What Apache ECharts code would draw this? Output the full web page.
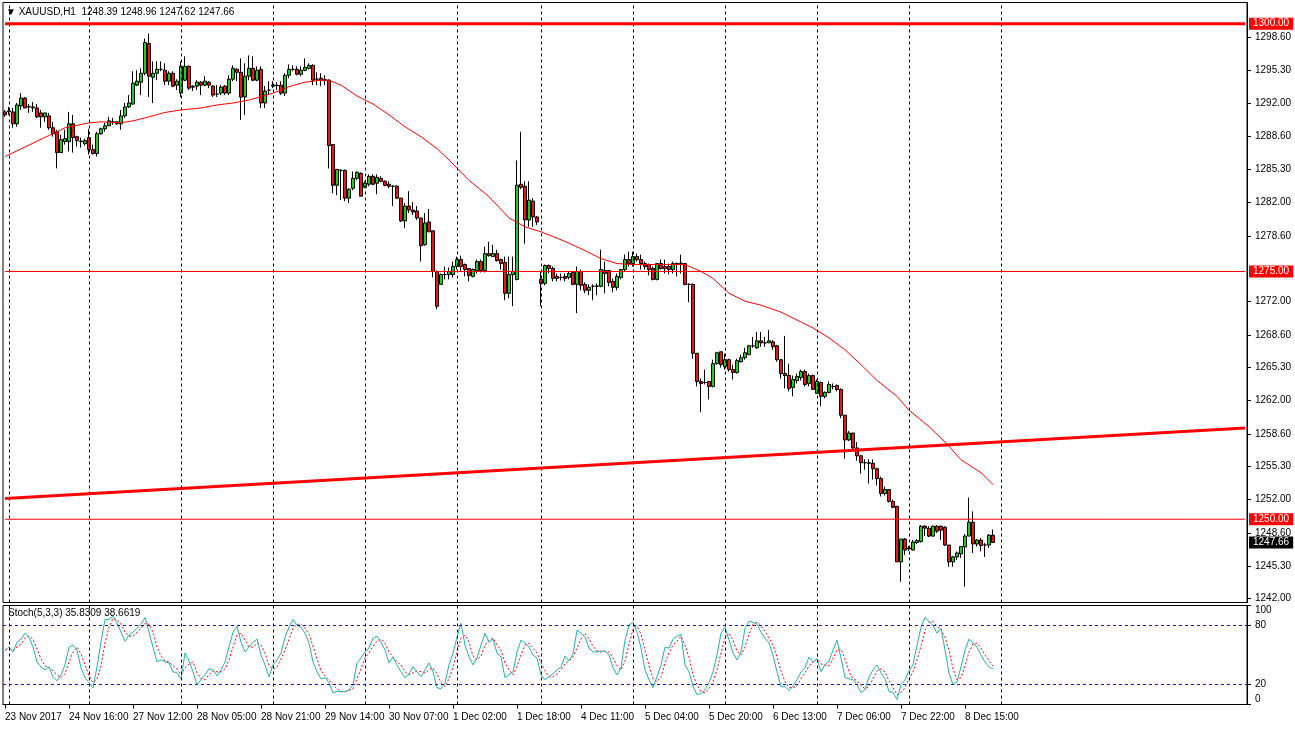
<!DOCTYPE html>
<html><head><meta charset="utf-8">
<script src="https://cdn.jsdelivr.net/npm/echarts@6/dist/echarts.min.js"></script>
<style>html,body{margin:0;padding:0;background:#fff;}#c{width:1295px;height:729px;}</style>
</head><body><div id="c"></div>
<script>
const symbol = 'XAUUSD,H1';
const opens = [
1291.1,1291.1,1291.1,1289.9,1291.7,1292.5,1291.6,1291.5,1291.5,1291.0,
1290.6,1290.7,1289.5,1289.1,1287.0,1288.1,1288.1,1289.9,1288.6,1288.1,
1287.9,1288.5,1287.3,1286.9,1288.9,1289.4,1289.7,1290.1,1290.1,1289.9,
1290.7,1291.6,1291.9,1293.8,1294.1,1295.0,1298.0,1294.6,1295.0,1295.4,
1295.3,1294.2,1295.0,1293.8,1293.0,1294.3,1295.7,1293.7,1293.7,1294.1,
1293.8,1294.1,1293.7,1292.9,1293.0,1293.7,1293.0,1294.4,1295.4,1295.1,
1292.6,1294.7,1295.5,1294.3,1295.4,1292.0,1293.3,1293.7,1293.8,1293.8,
1293.0,1294.8,1295.4,1295.4,1294.9,1295.3,1295.5,1295.8,1294.4,1294.5,
1294.3,1294.3,1287.8,1283.7,1285.2,1285.2,1282.4,1283.4,1284.4,1284.9,
1283.5,1283.8,1284.6,1283.9,1284.4,1284.1,1283.8,1283.6,1283.6,1282.4,
1280.1,1281.6,1281.2,1281.1,1280.4,1277.7,1280.0,1279.1,1275.0,1273.7,
1274.7,1274.7,1274.7,1275.5,1276.2,1275.7,1275.3,1274.5,1275.1,1276.0,
1275.1,1276.8,1276.5,1276.8,1276.2,1275.9,1272.8,1274.7,1274.2,1283.8,
1283.6,1280.2,1282.1,1280.5,1274.2,1273.8,1275.6,1275.3,1274.5,1274.4,
1274.5,1274.4,1274.9,1273.7,1275.0,1273.7,1273.1,1273.5,1273.5,1273.5,
1275.1,1275.1,1274.0,1273.4,1274.4,1275.2,1276.2,1275.8,1276.5,1276.2,
1275.8,1275.7,1275.3,1274.2,1275.8,1275.5,1275.5,1275.2,1275.8,1275.8,
1275.8,1273.7,1273.7,1266.75,1263.9,1263.8,1263.9,1263.4,1265.7,1266.9,
1265.4,1266.1,1265.1,1264.8,1265.9,1266.3,1266.6,1267.5,1267.3,1268.0,
1267.8,1267.8,1267.9,1267.5,1266.1,1264.7,1264.5,1263.3,1264.0,1264.3,
1264.9,1263.7,1264.5,1262.7,1263.8,1262.4,1262.8,1263.4,1263.5,1263.1,
1260.5,1258.0,1258.7,1257.2,1256.4,1255.7,1255.7,1255.65,1255.1,1254.1,
1252.6,1253.0,1251.8,1251.3,1245.7,1248.0,1247.1,1246.9,1247.65,1247.75,
1249.3,1249.1,1248.3,1249.3,1249.3,1249.2,1247.4,1245.7,1246.2,1246.5,
1247.2,1248.3,1249.7,1247.5,1247.9,1247.4,1247.4,1248.39];
const highs = [
1291.3,1291.6,1291.5,1292.0,1293.0,1292.6,1291.9,1292.1,1291.9,1291.3,
1291.0,1291.0,1290.1,1289.3,1288.8,1289.3,1291.1,1290.8,1288.7,1288.5,
1288.4,1289.4,1287.8,1289.1,1289.5,1290.0,1290.6,1290.5,1290.2,1291.3,
1292.0,1292.8,1295.2,1295.3,1295.5,1298.5,1299.0,1296.2,1296.2,1296.2,
1296.0,1295.2,1295.2,1294.4,1296.2,1296.7,1295.8,1293.8,1294.3,1294.2,
1294.7,1294.2,1293.8,1293.8,1293.8,1293.8,1294.8,1295.8,1295.5,1296.5,
1296.0,1296.8,1296.7,1295.7,1295.7,1293.7,1294.2,1294.2,1294.1,1294.2,
1295.0,1295.9,1295.8,1295.7,1295.7,1296.5,1296.0,1295.9,1295.1,1295.0,
1294.8,1294.4,1287.8,1285.3,1285.3,1285.3,1283.4,1285.1,1285.1,1285.0,
1284.1,1284.8,1284.8,1284.8,1284.6,1284.2,1284.1,1283.7,1283.7,1282.4,
1281.9,1283.1,1282.0,1281.6,1280.4,1280.9,1281.3,1279.1,1275.1,1274.8,
1275.5,1275.4,1276.0,1276.5,1276.6,1275.8,1275.3,1275.3,1276.2,1276.2,
1277.5,1278.0,1277.7,1277.2,1276.3,1276.5,1276.5,1276.5,1286.2,1289.1,
1284.1,1284.1,1282.4,1280.6,1275.0,1275.7,1275.7,1275.5,1274.8,1274.8,
1274.8,1275.0,1275.0,1275.5,1275.2,1273.9,1273.7,1273.7,1273.8,1277.2,
1276.0,1275.1,1274.3,1274.8,1275.2,1276.7,1277.0,1277.0,1276.8,1276.7,
1276.0,1275.8,1275.5,1275.8,1276.2,1276.2,1275.8,1276.0,1275.9,1276.7,
1275.8,1273.8,1273.8,1266.75,1264.2,1265.1,1263.9,1266.1,1266.9,1266.9,
1266.7,1266.2,1265.6,1266.2,1266.6,1267.3,1267.6,1268.4,1268.9,1268.9,
1268.4,1269.1,1268.1,1267.6,1266.1,1268.5,1265.7,1264.5,1264.7,1265.1,
1265.1,1264.7,1264.6,1264.1,1263.9,1262.9,1263.9,1263.7,1263.6,1263.2,
1260.5,1258.9,1258.7,1257.8,1256.5,1256.05,1256.05,1256.05,1255.2,1254.3,
1253.3,1253.0,1252.0,1251.35,1248.0,1248.1,1247.3,1247.9,1248.0,1249.4,
1249.4,1249.3,1249.35,1249.4,1249.35,1249.3,1247.4,1246.3,1246.75,1247.3,
1248.5,1252.2,1250.8,1248.0,1248.1,1247.6,1248.5,1248.96];
const lows = [
1290.6,1290.8,1289.5,1289.6,1291.3,1291.5,1291.0,1291.1,1290.5,1289.5,
1290.1,1289.3,1288.6,1285.4,1287.0,1287.8,1287.1,1287.0,1287.6,1287.5,
1287.7,1286.8,1286.8,1286.6,1288.8,1289.1,1289.7,1289.8,1289.8,1289.3,
1290.5,1291.5,1291.8,1293.7,1292.8,1294.8,1292.6,1292.0,1294.3,1295.2,
1293.8,1293.8,1293.6,1293.3,1292.6,1294.2,1293.3,1293.2,1293.3,1292.8,
1293.7,1293.5,1292.6,1292.6,1292.8,1292.8,1292.8,1294.2,1294.2,1290.3,
1290.8,1294.3,1294.2,1294.2,1291.5,1291.5,1292.8,1293.5,1293.3,1292.8,
1292.7,1294.5,1295.2,1294.8,1294.7,1295.2,1295.4,1293.8,1293.8,1293.7,
1293.8,1285.4,1282.9,1282.7,1282.2,1282.1,1281.9,1283.2,1284.2,1282.6,
1283.4,1283.6,1283.7,1282.8,1284.0,1283.6,1283.4,1281.6,1282.3,1280.0,
1279.4,1280.9,1280.7,1280.2,1276.0,1277.6,1279.0,1274.4,1271.2,1273.7,
1274.2,1274.2,1274.4,1275.2,1275.0,1274.5,1274.0,1274.4,1274.8,1274.9,
1274.9,1276.5,1276.5,1276.0,1275.2,1272.1,1272.3,1271.5,1274.1,1283.3,
1277.8,1279.5,1279.5,1279.7,1271.5,1273.6,1274.8,1274.0,1274.0,1274.1,
1274.0,1274.2,1273.6,1270.8,1273.1,1272.8,1272.6,1272.1,1272.6,1273.4,
1272.8,1273.5,1272.9,1273.1,1274.2,1275.0,1275.5,1275.5,1276.0,1275.2,
1275.2,1274.6,1274.1,1274.1,1275.2,1274.8,1274.7,1274.8,1274.5,1274.8,
1273.6,1271.9,1266.2,1263.4,1260.8,1263.6,1262.1,1263.3,1265.6,1265.3,
1265.1,1264.9,1264.1,1264.7,1265.8,1266.1,1266.6,1267.3,1267.2,1267.4,
1267.4,1267.8,1267.1,1265.9,1264.2,1263.2,1262.9,1262.4,1263.7,1264.0,
1263.4,1263.4,1263.1,1262.7,1261.4,1262.2,1262.7,1263.1,1262.9,1260.2,
1256.1,1257.9,1257.0,1255.9,1254.6,1255.0,1253.6,1254.0,1253.4,1252.3,
1252.4,1251.7,1251.1,1245.7,1243.7,1246.4,1246.8,1246.85,1247.5,1247.65,
1248.3,1248.2,1248.25,1248.6,1247.9,1247.3,1245.2,1245.2,1245.9,1246.1,
1243.2,1248.3,1246.6,1247.25,1246.75,1246.2,1247.1,1247.62];
const closes = [
1290.8,1291.2,1289.9,1291.8,1292.5,1291.5,1291.65,1291.6,1290.6,1290.6,
1291.0,1289.5,1288.9,1287.0,1288.3,1288.4,1289.9,1288.5,1288.2,1288.15,
1288.2,1287.3,1286.9,1288.9,1289.4,1289.7,1290.2,1290.1,1289.9,1290.7,
1291.6,1292.0,1294.0,1294.2,1295.0,1298.1,1294.7,1295.0,1295.4,1295.4,
1294.2,1295.0,1293.7,1294.2,1295.7,1295.7,1293.5,1293.6,1294.1,1293.8,
1294.2,1293.8,1292.8,1292.9,1293.6,1293.0,1294.4,1295.5,1295.1,1292.6,
1294.7,1295.5,1294.3,1295.3,1292.0,1293.2,1293.3,1293.8,1293.75,1293.0,
1294.8,1295.4,1295.4,1294.9,1295.3,1295.6,1295.8,1294.3,1294.4,1294.3,
1294.35,1287.7,1283.7,1285.3,1285.2,1282.4,1283.3,1284.4,1285.0,1282.6,
1283.9,1284.6,1283.8,1284.5,1284.1,1283.7,1283.6,1283.6,1282.4,1280.1,
1281.6,1281.2,1281.0,1280.4,1277.6,1279.9,1279.0,1275.0,1271.5,1274.7,
1274.7,1275.0,1275.5,1276.2,1275.5,1275.2,1274.6,1275.2,1276.0,1275.1,
1276.8,1276.6,1276.8,1276.1,1275.8,1272.8,1274.7,1275.0,1283.7,1283.5,
1280.2,1282.2,1280.5,1280.0,1273.8,1275.6,1275.3,1274.3,1274.3,1274.4,
1274.3,1274.8,1273.7,1275.0,1273.6,1273.1,1273.4,1273.5,1273.55,1275.2,
1274.8,1273.9,1273.4,1274.5,1275.2,1276.2,1275.8,1276.5,1276.2,1275.8,
1275.5,1275.2,1274.2,1275.8,1275.3,1275.3,1275.2,1275.8,1275.8,1275.85,
1273.7,1273.7,1266.75,1263.9,1263.7,1263.8,1263.4,1265.7,1266.8,1265.6,
1266.1,1265.1,1264.8,1266.0,1266.3,1266.8,1267.5,1267.5,1268.0,1267.8,
1267.8,1268.0,1267.4,1266.1,1264.7,1264.5,1263.2,1264.1,1264.4,1264.9,
1263.6,1264.5,1263.1,1263.9,1262.4,1262.8,1263.6,1263.4,1263.1,1260.5,
1258.0,1258.7,1257.2,1256.4,1255.7,1255.7,1255.65,1255.1,1254.1,1252.6,
1253.0,1251.8,1251.2,1245.7,1248.0,1246.9,1247.0,1247.7,1247.85,1249.3,
1249.1,1248.3,1249.3,1248.8,1248.9,1247.4,1245.7,1246.2,1246.6,1247.25,
1248.3,1249.7,1247.5,1247.9,1247.35,1247.4,1248.4,1247.66];

// moving average at these bars
const maBars = [0,7,15,21,24,29,32,36,40,44,49,53,57,61,67,71,75,79,81,84,88,92,96,100,104,108,111,116,121,126,130,134,139,144,149,153,157,165,170,174,177,181,185,189,194,198,202,206,210,214,218,223,226,231,235,239,244,247];
const maValues = [1286.6,1287.95,1289.5,1290.0,1290.1,1290.0,1290.2,1290.6,1291.05,1291.3,1291.5,1291.8,1292.0,1292.3,1293.0,1293.65,1294.1,1294.3,1294.3,1293.8,1292.7,1291.9,1290.8,1289.6,1288.6,1287.4,1286.25,1284.2,1282.55,1280.4,1279.5,1279.0,1278.2,1277.3,1276.3,1275.8,1275.7,1275.7,1275.7,1275.0,1274.3,1272.8,1272.0,1271.6,1270.9,1270.1,1269.3,1268.3,1267.1,1265.6,1264.0,1262.4,1261.0,1259.35,1257.8,1256.0,1254.7,1253.5];

const stochName = 'Stoch(5,3,3)';
const stochK = [
55,58,53,63,66,72,68,58,43,38, 35,38,28,24,30,40,58,60,55,37,
27,22,17,38,63,86,86,89,82,73, 64,70,73,77,81,88,73,58,43,45,
43,42,33,32,26,52,44,33,20,25, 30,36,35,29,35,43,58,73,79,63,
53,58,63,66,50,40,28,40,45,52, 68,78,86,80,78,72,62,43,33,26,
27,22,12,13,13,13,15,20,42,47, 53,57,67,69,63,55,42,48,40,33,
27,31,38,33,28,35,42,33,17,16, 22,40,52,68,82,60,48,40,47,60,
72,63,66,52,48,27,30,33,53,65, 62,58,50,47,30,25,28,31,35,38,
49,44,51,75,72,68,57,53,53,54, 54,50,37,30,37,65,80,83,73,57,
35,25,17,28,40,58,57,66,69,71, 40,33,18,10,11,15,22,33,50,72,
78,65,52,45,53,77,84,83,81,73, 67,62,50,33,18,18,14,19,25,33,
37,48,43,46,33,40,44,55,65,47, 27,26,25,20,12,15,28,35,40,32,
26,13,12,5,20,25,34,40,60,78, 88,84,80,72,77,55,32,20,23,38,
55,66,62,58,50,43,38,35.8309];
const stochD = [
55,56,55,58,61,67,69,66,56,46, 39,37,34,30,27,31,43,53,58,51,
40,29,22,26,39,62,78,87,86,81, 73,69,69,73,77,82,81,73,58,49,
44,43,39,36,30,37,41,43,32,26, 25,30,34,33,33,36,45,58,70,72,
65,58,58,62,60,52,39,36,38,46, 55,66,77,81,81,77,71,59,46,34,
29,25,20,16,13,13,14,16,26,36, 47,52,59,64,66,62,53,48,43,40,
33,30,32,34,33,32,35,37,31,22, 18,26,38,53,67,70,63,49,45,49,
60,65,67,60,55,42,35,30,39,50, 60,62,57,52,42,34,28,28,31,35,
41,44,48,57,66,72,66,59,54,53, 54,53,47,39,35,44,61,76,79,71,
55,39,26,23,28,42,52,60,64,69, 60,48,30,20,13,12,16,23,35,52,
67,72,65,54,50,58,71,81,83,79, 74,67,60,48,34,23,17,17,19,26,
32,39,43,46,41,40,39,46,55,56, 46,33,26,24,19,16,18,26,34,36,
33,24,17,10,12,17,26,33,45,59, 75,83,84,79,76,68,55,36,25,27,
39,53,61,62,57,50,44,38.6619];

const xTickLabels = ['23 Nov 2017','24 Nov 16:00','27 Nov 12:00','28 Nov 05:00','28 Nov 21:00','29 Nov 14:00','30 Nov 07:00','1 Dec 02:00','1 Dec 18:00','4 Dec 11:00','5 Dec 04:00','5 Dec 20:00','6 Dec 13:00','7 Dec 06:00','7 Dec 22:00','8 Dec 15:00'];
const barsPerTick = 16;
const totalSlots = 311;
const dayGridBars = [1,21,44,67,90,113,134,157,180,203,226,249];
const priceTicks = [1242,1245.3,1248.6,1252,1255.3,1258.6,1262,1265.3,1268.6,1272,1278.6,1282,1285.3,1288.6,1292,1295.3,1298.6];
const priceRange = [1241.6, 1302.14];
const levelLines = [1300, 1275, 1250];
const trendLine = [[0, 1252.1], [310, 1259.2]];
const stochLevels = [80, 20];
const stochTicks = [0, 20, 80, 100];

const FONT = 'Liberation Sans';
const GREEN = '#22CC22', RED = '#E81818';
const CLEAR = 'rgba(0,0,0,0)';
const last = closes.length - 1;
const cats = Array.from({length: totalSlots}, (_, i) => String(i));
const candleData = opens.map((o, i) => [o, closes[i], lows[i], highs[i]]);
const tickFn = (i) => i % barsPerTick === 0 && i / barsPerTick < xTickLabels.length;
const txt = {fontSize: 10, fontWeight: 'normal', color: '#000', fontFamily: FONT};
const boxLabel = (bg) => ({show: true, position: 'end', distance: 2, formatter: p => Number(p.value).toFixed(2),
  backgroundColor: bg, color: '#fff', fontSize: 10, fontFamily: FONT, padding: [1, 4, 1, 4]});
const lineW = [3, 1, 1];

const levelSeries = levelLines.map((v, k) => ({
  type: 'line', xAxisIndex: 0, yAxisIndex: 0, z: 5, silent: true, symbol: 'none',
  data: [[0, v], [totalSlots - 1, v]],
  lineStyle: {color: '#FF0000', width: lineW[k], type: 'solid'}
}));

const chart = echarts.init(document.getElementById('c'));
chart.setOption({
  animation: false,
  backgroundColor: '#fff',
  title: [
    {text: '\u25BC ' + symbol + '  ' + [opens[last], highs[last], lows[last], closes[last]].map(v => v.toFixed(2)).join(' '),
     left: 6, top: 7, padding: 0, textStyle: txt},
    {text: stochName + ' ' + stochK[last].toFixed(4) + ' ' + stochD[last].toFixed(4), left: 8, top: 608, padding: 0, textStyle: txt}
  ],
  grid: [
    {left: 3, top: 2.5, width: 1244, height: 600, show: true, borderColor: '#000', borderWidth: 1},
    {left: 3, top: 605.5, width: 1244, height: 99, show: true, borderColor: '#000', borderWidth: 1}
  ],
  xAxis: [
    {type: 'category', gridIndex: 0, data: cats, boundaryGap: true, axisLine: {show: false}, axisTick: {show: false}, axisLabel: {show: false}, splitLine: {show: false}},
    {type: 'category', gridIndex: 1, data: cats, boundaryGap: true,
     axisLine: {show: true, lineStyle: {color: '#000'}},
     axisTick: {show: true, interval: tickFn, alignWithLabel: true, length: 4, lineStyle: {color: '#000'}},
     axisLabel: {interval: tickFn, formatter: (v, i) => xTickLabels[i / barsPerTick], align: 'left', margin: 8, fontSize: 10, color: '#000', fontFamily: FONT},
     splitLine: {show: false}}
  ],
  yAxis: [
    {type: 'value', gridIndex: 0, position: 'right', min: priceRange[0], max: priceRange[1], splitLine: {show: false},
     axisLine: {show: true, lineStyle: {color: '#000'}},
     axisTick: {show: true, length: 4, customValues: priceTicks, lineStyle: {color: '#000'}},
     axisLabel: {customValues: priceTicks, formatter: v => v.toFixed(2), fontSize: 10, color: '#000', fontFamily: FONT, margin: 8, padding: [4, 0, 0, 0]}},
    {type: 'value', gridIndex: 1, position: 'right', min: 0, max: 100, splitLine: {show: false},
     axisLine: {show: true, lineStyle: {color: '#000'}},
     axisTick: {show: true, length: 4, customValues: stochTicks, lineStyle: {color: '#000'}},
     axisLabel: {customValues: stochTicks, verticalAlignMinLabel: 'bottom', verticalAlignMaxLabel: 'top', fontSize: 10, color: '#000', fontFamily: FONT, margin: 8}}
  ],
  series: [
    {type: 'line', xAxisIndex: 0, yAxisIndex: 0, data: [], z: 1, silent: true,
     markLine: {silent: true, symbol: ['none', 'none'], label: {show: false}, lineStyle: {color: '#000', type: [3, 3], width: 1},
       data: dayGridBars.map(b => ({xAxis: b}))}},
    {type: 'line', xAxisIndex: 1, yAxisIndex: 1, data: [], z: 1, silent: true,
     markLine: {silent: true, symbol: ['none', 'none'], label: {show: false}, lineStyle: {color: '#000', type: [3, 3], width: 1},
       data: dayGridBars.map(b => ({xAxis: b}))}},
    {type: 'candlestick', xAxisIndex: 0, yAxisIndex: 0, data: candleData, barWidth: 3, z: 3, silent: true,
     itemStyle: {color: GREEN, color0: RED, borderColor: '#000', borderColor0: '#000', borderWidth: 1}},
    {type: 'line', xAxisIndex: 0, yAxisIndex: 0, data: maBars.map((b, k) => [b, maValues[k]]), symbol: 'none', z: 4, silent: true,
     lineStyle: {color: '#FF0000', width: 1}},
    ...levelSeries,
    {type: 'line', xAxisIndex: 0, yAxisIndex: 0, data: [], z: 6, silent: true, color: '#FF0000',
     markLine: {silent: true, symbol: ['none', 'none'], lineStyle: {color: CLEAR, type: 'solid', width: 1},
       data: levelLines.map(v => ({yAxis: v, lineStyle: {color: CLEAR}, label: boxLabel('#FF0000')}))
         .concat([{yAxis: closes[last], lineStyle: {color: CLEAR}, label: boxLabel('#000')}])
         .concat([[{coord: trendLine[0], lineStyle: {color: '#FF0000', width: 3, type: 'solid'}, label: {show: false}}, {coord: trendLine[1]}]])}},
    {type: 'line', xAxisIndex: 1, yAxisIndex: 1, data: stochD, symbol: 'none', z: 3, silent: true,
     lineStyle: {color: '#FF0000', width: 1, type: [2, 2]},
     markLine: {silent: true, symbol: ['none', 'none'], label: {show: false}, lineStyle: {color: '#1414C8', type: [3, 3], width: 1},
       data: stochLevels.map(v => ({yAxis: v}))}},
    {type: 'line', xAxisIndex: 1, yAxisIndex: 1, data: stochK, symbol: 'none', z: 4, silent: true,
     lineStyle: {color: '#20B2AA', width: 1}}
  ]
});
</script>
</body></html>
